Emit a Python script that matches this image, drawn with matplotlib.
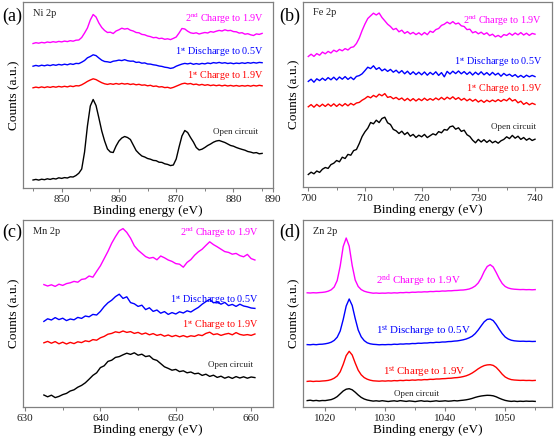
import matplotlib
matplotlib.use("Agg")
import matplotlib.pyplot as plt
from matplotlib.ticker import FixedLocator, MultipleLocator, NullLocator

plt.rcParams['font.family'] = ['Liberation Serif', 'DejaVu Serif']
plt.rcParams['mathtext.fontset'] = 'custom'
plt.rcParams['mathtext.rm'] = 'Liberation Serif'
plt.rcParams['mathtext.it'] = 'Liberation Serif:italic'

# ---------------- Ni 2p ----------------
ni_energy = [845, 845.5, 846, 846.5, 847, 847.5, 848, 848.5, 849, 849.5, 850, 850.5, 851, 851.5, 852, 852.5,
             853, 853.5, 854, 854.5, 855, 855.5, 856, 856.5, 857, 857.5, 858, 858.5, 859, 859.5, 860, 860.5,
             861, 861.5, 862, 862.5, 863, 863.5, 864, 864.5, 865, 865.5, 866, 866.5, 867, 867.5, 868, 868.5,
             869, 869.5, 870, 870.5, 871, 871.5, 872, 872.5, 873, 873.5, 874, 874.5, 875, 875.5, 876, 876.5,
             877, 877.5, 878, 878.5, 879, 879.5, 880, 880.5, 881, 881.5, 882, 882.5, 883, 883.5, 884, 884.5, 885]
ni_open = [8.0, 8.6, 7.9, 8.8, 8.3, 9.2, 8.6, 9.5, 9.0, 10.2, 9.6, 10.4, 10.0, 11.2, 11.0, 12.5,
           14.8, 19, 36, 62, 82, 88.5, 82.5, 70, 57, 47, 39, 36, 35.5, 42, 47, 50,
           51.5, 50.5, 48.5, 43, 37.5, 34.5, 32, 31, 29.5, 28.8, 27.6, 27.3, 25.8, 25.6, 24.2, 23.6,
           22.4, 23.0, 29, 41, 52, 57.5, 55.5, 50.5, 46, 40.5, 38, 38.8, 40.5, 42.5, 44, 45.8,
           47, 47.5, 46.5, 45.5, 44, 42.5, 41.8, 40.5, 39.5, 38.6, 37.8, 36.5, 35.9, 35, 35.4, 34.2, 34.6]
ni_charge1 = [100.2, 100.9, 100.3, 101.1, 100.4, 101.2, 100.6, 101.4, 100.8, 101.6, 101.0, 101.7, 101.1, 102.0, 101.4, 102.3,
              102.1, 103.2, 104.8, 106.6, 108.0, 109.2, 108.4, 106.8, 105.3, 104.2, 103.6, 104.3, 103.7, 104.5, 103.8, 104.6,
              103.9, 104.4, 103.5, 104.1, 103.2, 103.7, 102.8, 103.1, 102.2, 102.7, 101.6, 102.0, 101.0, 101.3, 100.4, 100.7,
              99.8, 100.6, 101.8, 103.0, 104.2, 104.8, 104.0, 104.5, 103.4, 103.9, 102.9, 103.6, 102.7, 103.3, 102.4, 103.0,
              102.3, 102.9, 102.1, 102.8, 102.0, 102.6, 101.9, 102.5, 101.8, 102.4, 101.9, 102.5, 101.8, 102.6, 102.0, 102.7, 102.2]
ni_discharge1 = [121.8, 122.6, 121.9, 122.8, 122.2, 123.0, 122.4, 123.3, 122.7, 123.6, 123.0, 123.8, 123.2, 124.2, 123.6, 124.6,
                 124.4, 125.8, 127.5, 130.2, 131.5, 133.2, 132.4, 130, 127.8, 126.5, 126.2, 125.6, 126.8, 127.2, 127.9, 127.4,
                 128.3, 127.3, 126.8, 126.9, 125.6, 125.9, 124.8, 125.1, 124.0, 123.9, 123.2, 122.8, 122.0, 121.6, 120.8, 120.4,
                 119.6, 120.2, 121.8, 122.9, 123.9, 124.6, 124.1, 124.8, 123.7, 124.4, 123.8, 124.6, 124.1, 125.0, 124.4, 125.4,
                 124.9, 125.6, 124.8, 125.3, 124.5, 125.0, 124.3, 124.9, 124.5, 125.2, 124.6, 125.4, 124.8, 125.5, 124.9, 125.6, 125.3]
ni_charge2 = [144.5, 145.3, 144.8, 145.6, 145.1, 146.0, 145.5, 146.3, 145.8, 146.6, 146.1, 146.9, 146.4, 147.3, 146.8, 147.8,
              148.0, 150.5, 155, 160, 168, 173.5, 171, 165, 160.5, 157.5, 155.5, 155.8, 154.5, 157, 158.2, 159.8,
              158.9, 159.5, 157.8, 157, 155.5, 155.2, 153.6, 153.2, 152.0, 151.4, 150.3, 150.6, 149.4, 149.8, 148.7, 149.2,
              148.4, 149.6, 151, 155, 159.5, 159, 156.8, 155.2, 154.6, 155.2, 154, 154.8, 155.5, 155, 156.4, 155.8,
              156.8, 157.6, 157, 158.2, 157.3, 157.6, 156.4, 156.2, 154.9, 155.3, 153.8, 154.3, 153.2, 152.5, 154.1, 153.6, 154.6]

# ---------------- Fe 2p ----------------
fe_energy = [700, 700.5, 701, 701.5, 702, 702.5, 703, 703.5, 704, 704.5, 705, 705.5, 706, 706.5, 707, 707.5,
             708, 708.5, 709, 709.5, 710, 710.5, 711, 711.5, 712, 712.5, 713, 713.5, 714, 714.5, 715, 715.5,
             716, 716.5, 717, 717.5, 718, 718.5, 719, 719.5, 720, 720.5, 721, 721.5, 722, 722.5, 723, 723.5,
             724, 724.5, 725, 725.5, 726, 726.5, 727, 727.5, 728, 728.5, 729, 729.5, 730, 730.5, 731, 731.5,
             732, 732.5, 733, 733.5, 734, 734.5, 735, 735.5, 736, 736.5, 737, 737.5, 738, 738.5, 739, 739.5, 740]
fe_open = [12.5, 14.8, 13.2, 16.0, 14.6, 17.8, 19.5, 18.6, 22.4, 23.8, 26.5, 25.2, 29.8, 28.5, 32.6, 31.8,
           36.4, 37.5, 43.5, 50.5, 55.2, 58.8, 64.5, 63.2, 66.8, 64.4, 68.5, 69.8, 64.2, 62.5, 57.6, 56.2,
           53.5, 55.8, 52.4, 54.6, 50.8, 52.6, 49.5, 51.8, 50.2, 52.6, 49.4, 51.3, 53.2, 52.0, 55.4, 54.2,
           57.5, 56.8, 60.2, 61.0, 57.8, 59.2, 55.6, 56.8, 52.3, 50.5, 46.8, 44.2, 47.6, 45.0, 47.3, 44.6,
           46.8, 44.2, 45.8, 43.8, 46.2, 47.6, 50.2, 48.4, 51.6, 48.8, 50.8, 47.6, 49.5, 46.8, 48.6, 46.5, 47.8]
fe_charge1 = [80.2, 82.4, 79.8, 82.6, 80.4, 82.8, 80.6, 83.0, 80.8, 83.2, 80.6, 83.0, 81.0, 83.4, 81.2, 83.6,
              82.0, 84.0, 84.6, 86.8, 88.4, 90.6, 89.2, 91.6, 90.0, 92.8, 91.2, 93.4, 89.6, 90.4, 88.2, 89.6,
              87.4, 89.0, 86.4, 88.6, 86.2, 88.4, 86.0, 88.2, 86.4, 88.8, 86.6, 88.4, 86.8, 89.0, 87.2, 89.6,
              87.4, 89.8, 88.0, 90.2, 87.6, 89.4, 86.8, 88.6, 86.2, 88.0, 85.8, 87.6, 85.0, 86.8, 84.6, 86.8,
              85.2, 87.0, 85.4, 87.4, 85.6, 87.6, 86.2, 88.8, 86.0, 87.4, 84.2, 85.8, 82.6, 84.4, 82.2, 83.8, 82.6]
fe_discharge1 = [105.6, 107.8, 104.8, 108.2, 106.4, 108.8, 106.6, 109.4, 107.2, 109.8, 107.0, 110.0, 107.8, 110.4, 107.6, 109.8,
                 107.4, 110.6, 111.4, 113.2, 116.4, 119.8, 118.4, 121.2, 117.6, 119.4, 116.2, 118.0, 115.6, 117.6, 114.8, 116.8,
                 114.0, 116.4, 113.2, 115.8, 112.6, 115.2, 112.4, 114.8, 112.2, 115.0, 111.8, 114.6, 112.4, 115.2, 111.6, 114.4,
                 110.2, 115.6, 113.0, 115.8, 113.4, 116.0, 113.2, 115.4, 112.6, 115.0, 112.0, 114.8, 112.4, 115.2, 112.2, 114.4,
                 111.8, 114.6, 112.0, 113.8, 110.8, 113.6, 111.4, 112.8, 110.6, 112.4, 109.8, 111.6, 109.6, 111.8, 110.2, 111.6, 110.4]
fe_charge2 = [130.5, 132.8, 130.6, 133.4, 131.8, 134.9, 133.2, 135.6, 134.0, 136.8, 135.3, 137.6, 136.2, 138.4, 137.0, 139.5,
              140.2, 143.5, 149.0, 156.5, 163.0, 168.5, 171.2, 173.8, 172.0, 174.0, 169.5, 166.2, 162.8, 160.5, 157.4, 158.6,
              155.2, 156.8, 153.6, 155.4, 153.0, 154.6, 152.4, 154.2, 152.0, 154.5, 152.3, 155.8, 154.6, 157.4, 158.5, 161.6,
              162.8, 164.9, 163.2, 165.4, 163.0, 164.0, 161.2, 160.5, 157.4, 157.8, 154.2, 155.4, 153.2, 154.8, 152.6, 154.2,
              151.4, 152.8, 150.2, 151.6, 149.8, 152.4, 151.6, 153.8, 151.8, 154.0, 152.2, 154.4, 152.0, 153.8, 151.6, 153.6, 152.8]

# ---------------- Mn 2p ----------------
mn_energy = [632.5, 633, 633.5, 634, 634.5, 635, 635.5, 636, 636.5, 637, 637.5, 638, 638.5, 639, 639.5, 640,
             640.5, 641, 641.5, 642, 642.5, 643, 643.5, 644, 644.5, 645, 645.5, 646, 646.5, 647, 647.5, 648,
             648.5, 649, 649.5, 650, 650.5, 651, 651.5, 652, 652.5, 653, 653.5, 654, 654.5, 655, 655.5, 656,
             656.5, 657, 657.5, 658, 658.5, 659, 659.5, 660, 660.5]
mn_open = [12.0, 10.2, 11.8, 9.4, 10.6, 12.4, 13.6, 16.0, 17.2, 19.8, 21.6, 24.2, 27.8, 31.6, 34.2, 39.4,
           41.2, 45.6, 46.8, 49.6, 50.4, 52.2, 53.8, 52.6, 54.2, 51.8, 52.8, 50.4, 51.2, 47.8, 46.6, 43.4,
           40.2, 38.6, 36.8, 37.6, 35.4, 36.2, 34.2, 35.0, 33.2, 33.8, 31.6, 32.8, 30.6, 31.8, 29.6, 30.8,
           28.8, 30.2, 28.6, 30.4, 29.0, 30.2, 28.8, 30.0, 29.4]
mn_charge1 = [64.2, 65.6, 63.8, 65.4, 63.2, 64.8, 63.0, 64.6, 63.4, 65.2, 64.4, 66.2, 65.4, 67.4, 66.8, 69.2,
              70.6, 72.8, 73.6, 75.2, 74.4, 76.0, 74.6, 75.4, 73.6, 74.6, 72.8, 74.0, 72.2, 73.4, 71.6, 72.6,
              70.8, 72.0, 70.4, 71.6, 70.2, 71.4, 70.0, 71.2, 70.6, 72.2, 71.4, 73.6, 74.8, 72.4, 73.2, 71.6,
              72.8, 73.6, 72.2, 74.4, 72.6, 71.8, 72.4, 71.6, 73.0]
mn_discharge1 = [85.6, 88.2, 87.0, 89.4, 87.4, 88.8, 86.4, 88.0, 87.2, 89.6, 88.6, 91.0, 90.2, 92.6, 92.0, 95.6,
                 100.4, 104.2, 106.8, 110.4, 112.8, 108.6, 110.2, 104.4, 103.2, 100.6, 101.8, 97.4, 99.2, 95.6, 97.0, 93.8,
                 95.4, 92.6, 94.4, 93.0, 95.2, 94.0, 96.2, 95.0, 97.4, 99.6, 102.8, 105.4, 107.6, 104.2, 105.0, 102.8,
                 104.6, 101.4, 102.6, 100.6, 102.8, 101.0, 100.2, 99.0, 98.6]
mn_charge2 = [122.4, 121.0, 122.2, 120.6, 122.8, 121.6, 123.4, 124.2, 125.6, 124.8, 127.6, 128.2, 131.0, 129.8, 135.6, 141.2,
              148.4, 155.6, 163.8, 170.4, 176.2, 178.4, 174.6, 168.8, 161.2, 156.8, 153.6, 150.4, 148.8, 149.6, 147.2, 151.0,
              149.2, 147.0, 145.6, 143.4, 142.8, 139.8, 144.6, 147.4, 151.8, 155.2, 157.8, 161.6, 165.2, 162.4, 160.2, 157.8,
              155.4, 154.6, 152.8, 153.6, 151.4, 150.2, 152.6, 148.4, 147.0]

# ---------------- Zn 2p ----------------
zn_energy = [1017, 1017.5, 1018, 1018.5, 1019, 1019.5, 1020, 1020.5, 1021, 1021.5, 1022, 1022.5, 1023, 1023.5, 1024, 1024.5,
             1025, 1025.5, 1026, 1026.5, 1027, 1027.5, 1028, 1028.5, 1029, 1029.5, 1030, 1030.5, 1031, 1031.5, 1032, 1032.5,
             1033, 1033.5, 1034, 1034.5, 1035, 1035.5, 1036, 1036.5, 1037, 1037.5, 1038, 1038.5, 1039, 1039.5, 1040, 1040.5,
             1041, 1041.5, 1042, 1042.5, 1043, 1043.5, 1044, 1044.5, 1045, 1045.5, 1046, 1046.5, 1047, 1047.5, 1048, 1048.5,
             1049, 1049.5, 1050, 1050.5, 1051, 1051.5, 1052, 1052.5, 1053, 1053.5, 1054, 1054.5, 1055]
zn_open = [6.4, 6.8, 6.2, 6.6, 6.1, 6.5, 6.4, 6.9, 7.4, 8.6, 10.4, 13.2, 16.0, 17.8, 18.3, 17.2,
           14.8, 12.0, 9.6, 8.0, 7.0, 6.4, 5.9, 6.2, 5.8, 6.3, 5.9, 5.5, 5.9, 6.2, 5.7, 6.4,
           6.0, 5.6, 6.1, 5.8, 5.4, 5.9, 6.3, 5.7, 5.9, 5.5, 5.8, 6.2, 5.7, 5.9, 6.2, 5.8,
           6.0, 6.4, 6.1, 6.5, 6.8, 7.2, 7.8, 8.6, 9.6, 10.4, 11.0, 11.4, 11.7, 11.6, 11.2, 10.2,
           8.8, 7.6, 6.6, 6.0, 5.6, 5.9, 5.5, 5.8, 5.6, 5.9, 5.7, 5.8, 5.6]
zn_charge1 = [25.6, 25.9, 25.5, 25.8, 25.7, 26.0, 26.2, 26.6, 27.4, 28.8, 31.0, 35.2, 42.6, 51.4, 55.7, 52.0,
              44.0, 36.8, 32.2, 29.4, 27.8, 26.8, 26.2, 26.0, 25.8, 26.1, 25.9, 26.2, 26.0, 26.4, 26.2, 26.6,
              26.4, 26.8, 26.6, 27.0, 26.8, 27.2, 27.0, 27.4, 27.3, 27.7, 27.6, 28.0, 28.0, 28.3, 28.4, 28.7,
              28.8, 29.2, 29.4, 29.8, 30.4, 31.2, 32.4, 34.0, 36.0, 38.2, 40.0, 41.4, 42.1, 42.3, 41.6, 39.6,
              36.4, 32.8, 30.0, 28.4, 27.4, 27.0, 26.8, 26.6, 26.7, 26.5, 26.6, 26.4, 26.6]
zn_discharge1 = [62.4, 62.2, 62.6, 62.3, 62.7, 62.8, 63.2, 63.8, 64.8, 66.6, 69.8, 76.0, 87.5, 101.0, 108.0, 101.5,
                 88.5, 77.0, 70.2, 66.4, 64.2, 63.2, 62.7, 62.5, 62.2, 62.4, 62.3, 62.5, 62.4, 62.8, 62.6, 63.0,
                 62.9, 63.2, 63.1, 63.5, 63.4, 63.8, 63.7, 64.0, 64.0, 64.4, 64.3, 64.7, 64.6, 65.0, 65.0, 65.4,
                 65.5, 65.9, 66.1, 66.6, 67.2, 68.0, 69.2, 70.8, 73.4, 77.0, 81.2, 85.2, 87.6, 88.0, 86.4, 82.6,
                 77.8, 73.4, 70.0, 68.0, 66.8, 66.2, 65.9, 65.7, 65.8, 65.6, 65.7, 65.5, 65.6]
zn_charge2 = [114.2, 114.0, 114.3, 114.1, 114.4, 114.6, 115.0, 115.8, 117.2, 120.0, 126.5, 141.0, 160.5, 169.0, 160.8, 141.5,
              127.0, 120.5, 117.4, 115.8, 114.9, 114.3, 113.8, 114.0, 113.7, 113.9, 113.8, 114.1, 113.9, 114.2, 114.0, 114.4,
              114.3, 114.6, 114.4, 114.8, 114.7, 115.0, 114.9, 115.2, 115.1, 115.5, 115.4, 115.7, 115.6, 116.0, 115.9, 116.2,
              116.2, 116.5, 116.6, 116.9, 117.0, 117.4, 118.0, 119.2, 121.0, 124.0, 129.0, 135.5, 140.5, 142.3, 140.0, 134.5,
              128.5, 123.5, 120.5, 119.0, 118.2, 117.8, 117.6, 117.4, 117.5, 117.3, 117.4, 117.2, 117.4]

series_labels = ['Open circuit', r'1$^{\mathrm{st}}$ Charge to 1.9V',
                 r'1$^{\mathrm{st}}$ Discharge to 0.5V', r'2$^{\mathrm{nd}}$ Charge to 1.9V']
series_colors = ['black', '#ff0000', '#0000ff', '#ff00ff']
panel_letters = ['(a)', '(b)', '(c)', '(d)']
element_names = ['Ni 2p', 'Fe 2p', 'Mn 2p', 'Zn 2p']
ni_tick_values = [850, 860, 870, 880, 886.9]
ni_tick_labels = ['850', '860', '870', '880', '890']

W, H = 555, 437
fig = plt.figure(figsize=(W / 100, H / 100), dpi=100)


def add_axes(l, t, r, b):
    return fig.add_axes([l / W, 1 - b / H, (r - l) / W, (b - t) / H])


ax_a = add_axes(23, 2, 273, 188)
ax_b = add_axes(303, 2, 552, 187)
ax_c = add_axes(23, 220, 273, 407)
ax_d = add_axes(303, 220, 552, 407)

panels = [
    (ax_a, ni_energy, [ni_open, ni_charge1, ni_discharge1, ni_charge2], (843.25, 886.9), (0, 186)),
    (ax_b, fe_energy, [fe_open, fe_charge1, fe_discharge1, fe_charge2], (699.07, 743.0), (0, 185)),
    (ax_c, mn_energy, [mn_open, mn_charge1, mn_discharge1, mn_charge2], (629.73, 662.9), (0, 187)),
    (ax_d, zn_energy, [zn_open, zn_charge1, zn_discharge1, zn_charge2], (1016.3, 1057.8), (0, 187)),
]

spine_col = '#808080'
for i, (ax, en, curves, xl, yl) in enumerate(panels):
    for y, c in zip(curves, series_colors):
        ax.plot(en, y, color=c, lw=1.0)
    ax.set_xlim(*xl)
    ax.set_ylim(*yl)
    for s in ax.spines.values():
        s.set_color(spine_col)
        s.set_linewidth(0.9)
    ax.yaxis.set_major_locator(NullLocator())
    ax.xaxis.set_minor_locator(MultipleLocator(5))
    if i != 0:
        ax.xaxis.set_major_locator(MultipleLocator(10))
    ax.tick_params(axis='x', which='major', direction='out', length=3, width=0.8, color=spine_col,
                   labelsize=8, labelcolor='#222222', pad=2)
    ax.tick_params(axis='x', which='minor', direction='out', length=2, width=0.7, color=spine_col)
    ax.set_xlabel('Binding energy (eV)', fontsize=9.5, labelpad=1)
    ax.set_ylabel('Counts (a.u.)', fontsize=9.5, labelpad=2)
    ax.text(0.04, 0.965, element_names[i], transform=ax.transAxes, fontsize=7.5,
            ha='left', va='top', color='#222222')

ax_a.xaxis.set_major_locator(FixedLocator(ni_tick_values))
ax_a.set_xticklabels(ni_tick_labels)

# panel letters
fig.text(12 / W, 1 - 16 / H, '(a)', fontsize=13, ha='center', va='center')
fig.text(290 / W, 1 - 16 / H, '(b)', fontsize=13, ha='center', va='center')
fig.text(12 / W, 1 - 232 / H, '(c)', fontsize=13, ha='center', va='center')
fig.text(290 / W, 1 - 232 / H, '(d)', fontsize=13, ha='center', va='center')

# curve annotations (x, y in data units)
ann_fs = 7.3
# Ni
ax_a.text(885.3, 169, series_labels[3], color=series_colors[3], fontsize=ann_fs, ha='right', va='center')
ax_a.text(885.3, 136, series_labels[2], color=series_colors[2], fontsize=ann_fs, ha='right', va='center')
ax_a.text(885.3, 112, series_labels[1], color=series_colors[1], fontsize=ann_fs, ha='right', va='center')
ax_a.text(880.4, 56, series_labels[0], color='#222222', fontsize=6.5, ha='center', va='center')
# Fe
ax_b.text(741.3, 166, series_labels[3], color=series_colors[3], fontsize=ann_fs, ha='right', va='center')
ax_b.text(741.3, 125, series_labels[2], color=series_colors[2], fontsize=ann_fs, ha='right', va='center')
ax_b.text(741.3, 98, series_labels[1], color=series_colors[1], fontsize=ann_fs, ha='right', va='center')
ax_b.text(736.2, 60, series_labels[0], color='#222222', fontsize=6.5, ha='center', va='center')
# Mn
ax_c.text(661.0, 174, series_labels[3], color=series_colors[3], fontsize=ann_fs, ha='right', va='center')
ax_c.text(661.0, 107, series_labels[2], color=series_colors[2], fontsize=ann_fs, ha='right', va='center')
ax_c.text(661.0, 82, series_labels[1], color=series_colors[1], fontsize=ann_fs, ha='right', va='center')
ax_c.text(657.2, 42, series_labels[0], color='#222222', fontsize=6.5, ha='center', va='center')
# Zn
ax_d.text(1035.5, 126, series_labels[3], color=series_colors[3], fontsize=ann_fs + 0.5, ha='center', va='center')
ax_d.text(1036.4, 76, series_labels[2], color=series_colors[2], fontsize=ann_fs + 0.5, ha='center', va='center')
ax_d.text(1036.4, 35, series_labels[1], color=series_colors[1], fontsize=ann_fs + 0.5, ha='center', va='center')
ax_d.text(1035.3, 12.5, series_labels[0], color='#222222', fontsize=6.5, ha='center', va='center')

fig.savefig('out.png', dpi=100)
